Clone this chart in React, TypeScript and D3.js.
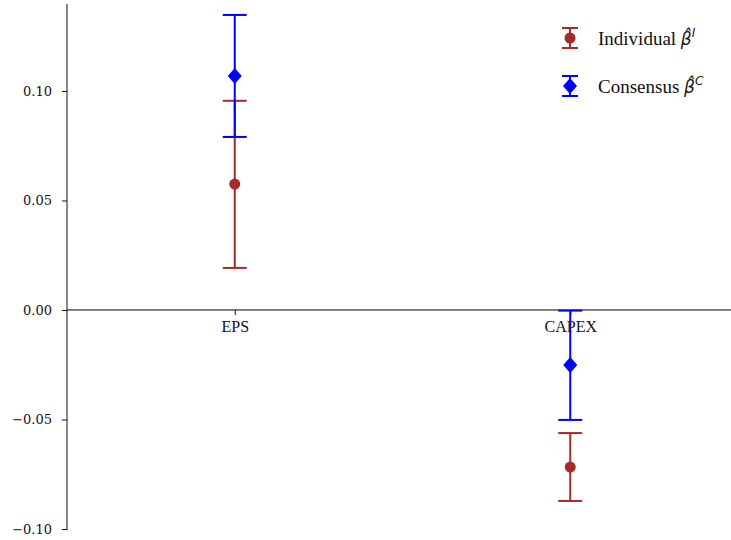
import { useEffect, useRef } from 'react';
import * as d3 from 'd3';

// categories and estimates (value, ci low, ci high)
const categories = ['EPS', 'CAPEX'];
const individualEst = [0.0575, -0.0717];
const individualLo = [0.0192, -0.0872];
const individualHi = [0.0955, -0.0562];
const consensusEst = [0.1068, -0.0251];
const consensusLo = [0.079, -0.0502];
const consensusHi = [0.1347, -0.0003];
const yTicks = [-0.1, -0.05, 0, 0.05, 0.1];

const W = 731, H = 540;
const TICKFONT = "'DejaVu Serif', Georgia, serif";
const SERIF = "'Liberation Serif', 'Times New Roman', serif";

const App = () => {
  const svgRef = useRef<SVGSVGElement>(null);

  useEffect(() => {
    const svg = d3.select(svgRef.current);
    svg.selectAll('*').remove();

    const x = d3.scaleLinear().domain([-0.5, 1.5]).range([67, 738]);
    const y = d3.scaleLinear().domain([-0.1, 0.1397]).range([529, 4]);

    // y axis spine + ticks
    const ya = svg.append('g')
      .attr('transform', 'translate(67,0)')
      .call(d3.axisLeft(y).tickValues(yTicks).tickFormat(d => d3.format('.2f')(+d).replace('-', '\u2212')).tickSize(5).tickPadding(10).tickSizeOuter(0));
    ya.attr('font-family', null);
    ya.select('.domain').attr('stroke', '#111').attr('d', `M0,${y.range()[1]}V${y(-0.1) + 1}`);
    ya.selectAll('.tick line').attr('stroke', '#111');
    ya.selectAll('.tick text').style('font-family', TICKFONT).style('font-size', '13px').attr('fill', '#111');

    // x axis at zero
    const xa = svg.append('g')
      .attr('transform', `translate(0,${y(0)})`)
      .call(d3.axisBottom(x).tickValues([0, 1]).tickFormat(d => categories[+d]).tickSize(5).tickPadding(6).tickSizeOuter(0));
    xa.attr('font-family', null);
    xa.select('.domain').attr('stroke', '#000').attr('d', `M67,0H745`);
    xa.selectAll('.tick line').attr('stroke', '#111');
    xa.selectAll('.tick text').style('font-family', SERIF).style('font-size', '16px').attr('fill', '#111');

    const series = [
      { est: individualEst, lo: individualLo, hi: individualHi, color: '#a52a2a', shape: 'circle' },
      { est: consensusEst, lo: consensusLo, hi: consensusHi, color: '#0000ff', shape: 'diamond' },
    ];
    const cap = 12;
    series.forEach(s => {
      const g = svg.append('g');
      categories.forEach((_, i) => {
        const cx = x(i);
        g.append('line').attr('x1', cx).attr('x2', cx).attr('y1', y(s.lo[i])).attr('y2', y(s.hi[i]))
          .attr('stroke', s.color).attr('stroke-width', 2);
        [s.lo[i], s.hi[i]].forEach(v => {
          g.append('line').attr('x1', cx - cap).attr('x2', cx + cap).attr('y1', y(v)).attr('y2', y(v))
            .attr('stroke', s.color).attr('stroke-width', 2);
        });
        if (s.shape === 'circle') {
          g.append('circle').attr('cx', cx).attr('cy', y(s.est[i])).attr('r', 5.5).attr('fill', s.color);
        } else {
          g.append('path').attr('transform', `translate(${cx},${y(s.est[i])})`)
            .attr('d', 'M0,-8L7,0L0,8L-7,0Z').attr('fill', s.color);
        }
      });
    });

    // legend
    const legend = [
      { label: 'Individual ', sup: 'I', color: '#a52a2a', shape: 'circle' },
      { label: 'Consensus ', sup: 'C', color: '#0000ff', shape: 'diamond' },
    ];
    legend.forEach((l, i) => {
      const ly = 38 + i * 48;
      const g = svg.append('g').attr('transform', `translate(570,${ly})`);
      g.append('line').attr('y1', -10).attr('y2', 10).attr('stroke', l.color).attr('stroke-width', 2);
      [-10, 10].forEach(v => g.append('line').attr('x1', -8).attr('x2', 8).attr('y1', v).attr('y2', v).attr('stroke', l.color).attr('stroke-width', 2));
      if (l.shape === 'circle') g.append('circle').attr('r', 5.5).attr('fill', l.color);
      else g.append('path').attr('d', 'M0,-8L7,0L0,8L-7,0Z').attr('fill', l.color);
      const t = g.append('text').attr('x', 28).attr('y', 7).style('font-family', SERIF).style('font-size', '19px').attr('fill', '#111');
      t.append('tspan').text(l.label);
      t.append('tspan').style('font-family', "'DejaVu Sans', sans-serif").style('font-style', 'italic').style('font-size', '17px').text('\u03B2\u0302');
      t.append('tspan').style('font-family', "'DejaVu Sans', sans-serif").style('font-style', 'italic').style('font-size', '12px').attr('dy', -8).text(l.sup);
    });
  }, []);

  return (
    <svg ref={svgRef} width={W} height={H}
      style={{ display: 'block', position: 'absolute', left: 0, top: 0, background: '#fff' }} />
  );
};

export default App;
